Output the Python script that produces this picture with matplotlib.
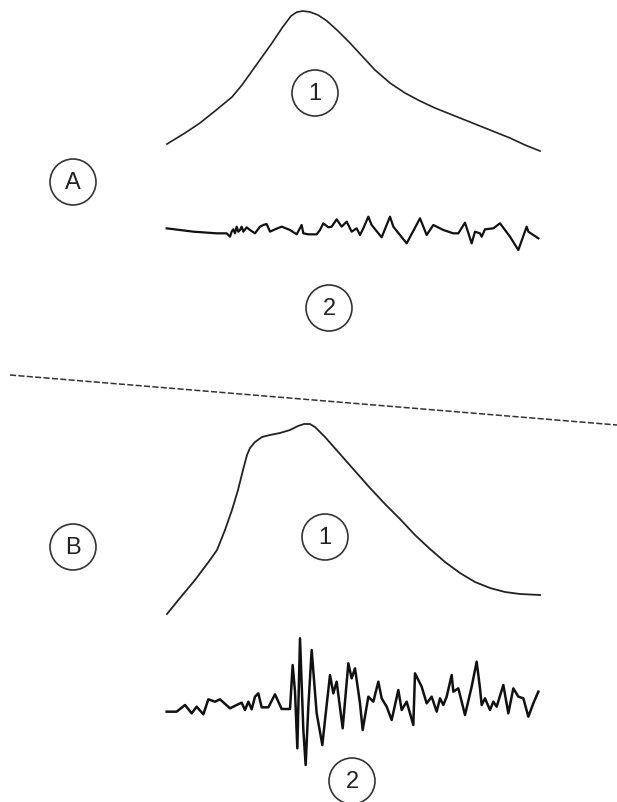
import matplotlib
matplotlib.use('Agg')
import matplotlib.pyplot as plt
from matplotlib.patches import Circle

# pixel coordinates (x right, y down)
A1_X = [167, 185, 200, 215, 232, 242, 252, 262, 272, 282, 291, 297, 303, 310, 318, 327, 338, 350, 362, 375, 390, 405, 420, 435, 450, 465, 480, 495, 510, 525, 540]
A1_Y = [144, 133, 123, 111, 97, 85, 71, 57, 43, 28, 16, 12, 11, 12, 15, 21, 31, 43, 56, 70, 83, 93, 101, 108, 114, 120, 126, 132, 138, 145, 151]

A2_ZX = [20, 100, 170, 200, 210, 215, 220, 225, 230, 235, 240, 245, 250, 260, 270, 285, 300, 310, 320, 330, 345, 365, 390, 410, 425, 430, 445, 470, 480, 490, 505, 515, 530, 545, 560, 575, 590, 600, 610, 625, 635, 665, 690, 700, 740, 780, 800, 820, 850, 880, 895, 915, 935, 945, 960, 965, 975, 1000, 1020, 1050, 1075, 1100, 1105, 1135]
A2_ZY = [85, 95, 100, 100, 110, 95, 88, 100, 80, 95, 90, 80, 95, 82, 90, 100, 80, 75, 72, 95, 88, 80, 90, 103, 75, 100, 103, 103, 90, 70, 82, 80, 58, 80, 65, 95, 85, 105, 85, 50, 75, 112, 50, 80, 130, 55, 105, 75, 90, 100, 100, 68, 130, 95, 100, 110, 88, 85, 70, 110, 150, 80, 95, 115]

B1_X = [167, 180, 195, 210, 217, 225, 232, 238, 243, 247, 250, 255, 262, 270, 280, 290, 298, 304, 310, 315, 325, 340, 355, 370, 385, 400, 415, 430, 445, 460, 475, 490, 505, 520, 540]
B1_Y = [614, 598, 580, 560, 550, 530, 510, 490, 470, 455, 448, 442, 437, 435, 433, 430, 426, 424, 424, 427, 437, 454, 471, 488, 504, 519, 535, 549, 562, 573, 582, 588, 592, 594, 595]

B2_ZX = [20, 50, 75, 95, 110, 130, 145, 165, 180, 210, 230, 245, 255, 265, 275, 285, 295, 305, 325, 345, 365, 390, 398, 405, 412, 420, 430, 437, 445, 455, 470, 487, 495, 510, 520, 530, 548, 565, 575, 585, 600, 608, 625, 640, 655, 665, 680, 695, 715, 725, 740, 760, 765, 785, 800, 815, 830, 840, 850, 860, 875, 880, 895, 915, 935, 950, 960, 965, 975, 990, 1000, 1010, 1030, 1045, 1060, 1075, 1090, 1105, 1120, 1135]
B2_ZY = [245, 245, 225, 250, 230, 253, 208, 215, 208, 235, 225, 218, 240, 215, 238, 200, 190, 232, 232, 193, 237, 237, 105, 185, 355, 25, 300, 405, 230, 60, 250, 345, 270, 135, 190, 155, 295, 100, 145, 115, 220, 300, 200, 215, 155, 205, 230, 270, 180, 240, 215, 285, 130, 170, 220, 200, 245, 205, 225, 200, 135, 185, 175, 255, 170, 95, 175, 225, 205, 240, 215, 230, 165, 250, 175, 200, 205, 260, 220, 185]

LABEL_TEXT = ['A', '1', '2', 'B', '1', '2']
LABEL_X = [73, 315, 329, 73, 325, 352]
LABEL_Y = [182, 93, 308, 547, 537, 781]

DIVIDER_X = [10, 617]
DIVIDER_Y = [375, 425]

fig = plt.figure(figsize=(6.17, 8.02), dpi=100)
ax = fig.add_axes([0, 0, 1, 1])
ax.set_xlim(0, 617)
ax.set_ylim(802, 0)
ax.axis('off')

a2_x = [160 + v / 3 for v in A2_ZX]
a2_y = [200 + v / 3 for v in A2_ZY]
b2_x = [160 + v / 3 for v in B2_ZX]
b2_y = [630 + v / 3 for v in B2_ZY]

ax.plot(A1_X, A1_Y, color='#222222', lw=1.2, solid_joinstyle='round')
ax.plot(a2_x, a2_y, color='#111111', lw=1.6)
ax.plot(B1_X, B1_Y, color='#222222', lw=1.3, solid_joinstyle='round')
ax.plot(b2_x, b2_y, color='#111111', lw=1.8)
ax.plot(DIVIDER_X, DIVIDER_Y, color='#333333', lw=1.1, ls=(0, (4, 1.5)))

for t, x, y in zip(LABEL_TEXT, LABEL_X, LABEL_Y):
    ax.add_patch(Circle((x, y), 23, fill=False, ec='#333333', lw=1.2))
    ax.text(x, y + 1, t, ha='center', va='center', fontsize=17,
            family='Liberation Sans', color='#222222')

fig.savefig('out.png', dpi=100)
